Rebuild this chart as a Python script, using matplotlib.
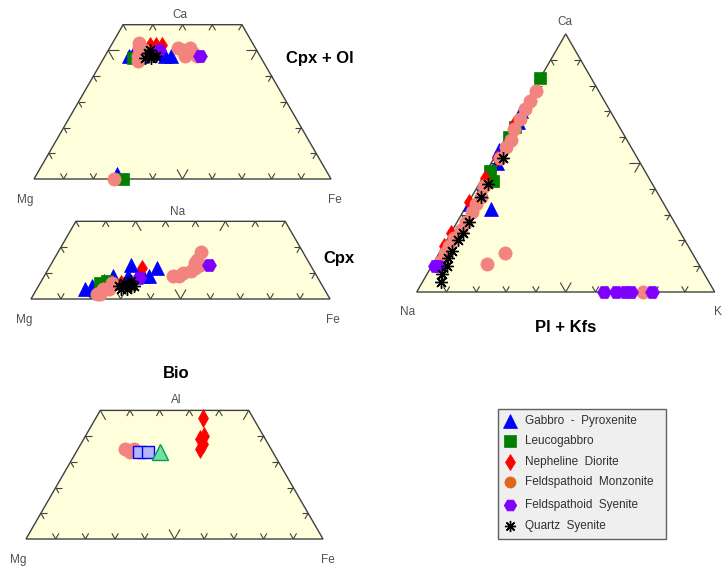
import numpy as np
import matplotlib
matplotlib.use("Agg")
import matplotlib.pyplot as plt
from matplotlib.patches import Polygon, Rectangle
from matplotlib.collections import LineCollection

plt.rcParams['font.family'] = ['Liberation Sans', 'DejaVu Sans']

W, H = 728, 568
SQ3 = np.sqrt(3) / 2
FILL = '#ffffdc'
EDGE = '#404040'
LABEL = '#505050'

# ---------------------------------------------------------------- series
names = ["Gabbro  -  Pyroxenite", "Leucogabbro", "Nepheline  Diorite",
         "Feldspathoid  Monzonite", "Feldspathoid  Syenite", "Quartz  Syenite"]

# Cpx + Ol  (Mg, Fe, Ca) in %
cpxol_gabbro = [(44, 8, 48), (41, 9, 50), (40, 12, 48), (37, 13, 50), (34, 15, 51),
                (33, 18, 49), (32, 20, 48), (30, 22, 48), (71, 27, 2)]
cpxol_leuco = [(43, 10, 47), (70, 30, 0)]
cpxol_neph = [(35, 13, 52), (33, 15, 52), (31, 17, 52)]
cpxol_monz = [(38, 9, 53), (39, 10, 51), (39, 11, 50), (40, 12, 48), (42, 12, 46),
              (38, 12, 50), (41, 11, 48), (26, 23, 51), (25, 25, 50), (24, 27, 49),
              (22, 29, 49), (21, 31, 48), (25, 27, 48), (22, 27, 51), (73, 27, 0)]
cpxol_syen = [(33, 17, 50), (20, 32, 48)]
cpxol_qtz = [(37, 14, 49), (36, 16, 48), (37, 16, 47), (35, 17, 48), (39, 14, 47), (36, 14, 50)]

# Cpx  (Mg, Fe, Na) in %
cpx_gabbro = [(60, 27, 13), (52, 36, 12), (58, 33, 9), (80, 16, 4), (77, 18, 5),
              (68, 23, 9), (63, 28, 9), (56, 35, 9), (72, 21, 7), (58, 31, 11)]
cpx_leuco = [(74, 20, 6), (71, 22, 7)]
cpx_neph = [(57, 31, 12), (67, 27, 6)]
cpx_monz = [(77, 21, 2), (74, 22, 4), (72, 24, 4), (70, 24, 6), (76, 22, 2),
            (48, 43, 9), (44, 46, 10), (41, 48, 11), (39, 49, 12), (37, 50, 13),
            (37, 48, 15), (34, 48, 18), (38, 48, 14), (46, 45, 9)]
cpx_syen = [(60, 32, 8), (34, 53, 13)]
cpx_qtz = [(68, 27, 5), (66, 28, 6), (64, 31, 5), (63, 32, 5), (66, 30, 4), (68, 28, 4), (63, 30, 7)]

# Bio  (Mg, Fe, Al) in %
bio_gabbro = [(38, 28, 34)]
bio_leuco = [(45, 21, 34), (42, 24, 34)]
bio_neph = [(17, 36, 47), (22, 39, 39), (22, 41, 37), (24, 41, 35), (20, 40, 40)]
bio_monz = [(49, 16, 35), (48, 18, 34), (46, 19, 35), (45, 21, 34)]

# Pl + Kfs  (Na, K, Ca) in %
fsp_gabbro = [(30, 0, 70), (33, 1, 66), (45, 0, 55), (48, 2, 50), (59, 9, 32),
              (59, 2, 39), (65, 1, 34)]
fsp_leuco = [(17, 0, 83), (35, 1, 64), (39, 1, 60), (52, 1, 47), (53, 4, 43)]
fsp_neph = [(35, 0, 65), (47, 1, 52), (55, 1, 44), (65, 0, 35), (77, 0, 23), (82, 0, 18)]
fsp_monz = [(21, 1, 78), (25, 1, 74), (28, 1, 71), (32, 1, 67), (36, 1, 63), (39, 2, 59),
            (42, 2, 56), (46, 2, 52), (57, 2, 41), (60, 3, 37), (63, 3, 34), (66, 3, 31),
            (70, 3, 27), (73, 3, 24), (77, 2, 21), (80, 2, 18), (83, 2, 15), (86, 2, 12),
            (63, 22, 15), (71, 18, 11), (24, 76, 0)]
fsp_syen = [(88, 2, 10), (89, 1, 10), (37, 63, 0), (33, 67, 0), (30, 70, 0), (28, 72, 0), (21, 79, 0)]
fsp_qtz = [(45, 3, 52), (55, 3, 42), (60, 3, 37), (69, 4, 27), (73, 4, 23), (76, 4, 20),
           (80, 4, 16), (83, 4, 13), (85, 5, 10), (88, 5, 7), (90, 6, 4)]

# marker styles for the six rock groups
styles = [
    dict(marker='^', color='#0000ff', ms=10),
    dict(marker='s', color='#008000', ms=9),
    dict(marker='d', color='#ff0000', ms=8),
    dict(marker='o', color='#f2837e', ms=9.5),
    dict(marker='H', color='#8000ff', ms=10),
    dict(marker=(8, 2, 0), color='#000000', ms=9),
]
legend_colors = ['#0000ff', '#008000', '#ff0000', '#e0661a', '#8000ff', '#000000']

fig = plt.figure(figsize=(W / 100, H / 100), dpi=100)


def tern_axes(ox, oy, side):
    """Axes in unit-side ternary coordinates with the left corner at pixel (ox, oy)."""
    ax = fig.add_axes([0, 0, 1, 1])
    ax.set_xlim(-ox / side, (W - ox) / side)
    ax.set_ylim(-(H - oy) / side, oy / side)
    ax.axis('off')
    ax.patch.set_visible(False)
    return ax


def to_xy(points):
    p = np.asarray(points, float)
    p = p / p.sum(axis=1, keepdims=True)
    return p[:, 1] + p[:, 2] / 2, p[:, 2] * SQ3


def frame(ax, top, side_px):
    if top < 1:
        verts = [(0, 0), (1, 0), (1 - top / 2, top * SQ3), (top / 2, top * SQ3)]
    else:
        verts = [(0, 0), (1, 0), (0.5, SQ3)]
    ax.add_patch(Polygon(verts, closed=True, fc=FILL, ec=EDGE, lw=1.0, zorder=1))
    short, long_ = 6.5 / side_px, 11 / side_px
    d60 = np.array([0.5, SQ3])
    d120 = np.array([-0.5, SQ3])
    d0 = np.array([1.0, 0.0])
    segs = []

    def add(p, d):
        p = np.array(p)
        segs.append([p, p + d])

    for i in range(1, 10):
        v = i / 10
        L = long_ if i == 5 else short
        if v < top - 1e-9:
            add((v / 2, v * SQ3), d0 * L)
            add((1 - v / 2, v * SQ3), -d0 * L)
        add((v, 0), d60 * L)
        if v + top <= 1 + 1e-9:
            add((v + top / 2, top * SQ3), -d60 * L)
        else:
            c = 1 - v
            add((v + c / 2, c * SQ3), -d60 * L)
        add((1 - v, 0), d120 * L)
        if v + top <= 1 + 1e-9:
            b = 1 - v - top
            add((b + top / 2, top * SQ3), -d120 * L)
        else:
            c = 1 - v
            add((c / 2, c * SQ3), -d120 * L)
    ax.add_collection(LineCollection(segs, colors=EDGE, linewidths=0.8, zorder=2))


def plot_group(ax, pts, style, z, **over):
    if not pts:
        return
    x, y = to_xy(pts)
    st = dict(style)
    st.update(over)
    color = st.pop('color')
    mfc = st.pop('mfc', color)
    mec = st.pop('mec', color)
    mew = st.pop('mew', 1.0 if st['marker'] == (8, 2, 0) else 0.5)
    ax.plot(x, y, ls='none', mfc=mfc, mec=mec, mew=mew, color=color,
            zorder=z, clip_on=False, **st)


# Cpx + Ol
ax1 = tern_axes(34, 179, 297)
frame(ax1, 0.6, 297)
for k, grp in enumerate([cpxol_gabbro, cpxol_leuco, cpxol_neph, cpxol_monz, cpxol_syen, cpxol_qtz]):
    plot_group(ax1, grp, styles[k], 3 + k)

# Cpx
ax2 = tern_axes(31, 299, 299)
frame(ax2, 0.3, 299)
for k, grp in enumerate([cpx_gabbro, cpx_leuco, cpx_neph, cpx_monz, cpx_syen, cpx_qtz]):
    plot_group(ax2, grp, styles[k], 3 + k)

# Bio
ax3 = tern_axes(26, 539, 297)
frame(ax3, 0.5, 297)
plot_group(ax3, bio_monz, styles[3], 3)
plot_group(ax3, bio_leuco, styles[1], 4, color='#0000ff', mfc='#b4b4ff', mec='#0000ff', mew=1.0, ms=9)
plot_group(ax3, bio_gabbro, styles[0], 5, color='#00a050', mfc='#70e0a8', mec='#00a050', mew=1.0, ms=11)
plot_group(ax3, bio_neph, styles[2], 6, ms=9)

# Pl + Kfs
ax4 = tern_axes(416.7, 292, 298)
frame(ax4, 1.0, 298)
for k, grp in enumerate([fsp_gabbro, fsp_leuco, fsp_neph, fsp_monz, fsp_syen, fsp_qtz]):
    plot_group(ax4, grp, styles[k], 3 + k)

# labels and legend in pixel coordinates
tax = fig.add_axes([0, 0, 1, 1])
tax.set_xlim(0, W)
tax.set_ylim(H, 0)
tax.axis('off')
tax.patch.set_visible(False)

corner = dict(fontsize=8.5, color=LABEL, ha='center', va='center')
title = dict(fontsize=12, color='#000000', ha='center', va='center', fontweight='bold')

tax.text(180, 15, 'Ca', **corner)
tax.text(25, 200, 'Mg', **corner)
tax.text(335, 200, 'Fe', **corner)
tax.text(320, 58, 'Cpx + Ol', **title)

tax.text(178, 212, 'Na', **corner)
tax.text(24, 320, 'Mg', **corner)
tax.text(333, 320, 'Fe', **corner)
tax.text(339, 258, 'Cpx', **title)

tax.text(176, 374, 'Bio', **title)
tax.text(176, 400, 'Al', **corner)
tax.text(18, 560, 'Mg', **corner)
tax.text(328, 560, 'Fe', **corner)

tax.text(565, 22, 'Ca', **corner)
tax.text(408, 312, 'Na', **corner)
tax.text(718, 312, 'K', **corner)
tax.text(566, 327, 'Pl + Kfs', **title)

tax.add_patch(Rectangle((498, 409), 168, 130, fc='#efefef', ec='#606060', lw=1.0, zorder=1))
legend_y = [421, 441, 462, 482, 505, 526]
legend_ms = [10, 8.5, 8, 8, 9, 8]
for k, (name, yy) in enumerate(zip(names, legend_y)):
    st = dict(styles[k])
    st.pop('color')
    st.pop('ms')
    c = legend_colors[k]
    tax.plot([510], [yy], ls='none', mfc=c, mec=c,
             mew=1.0 if k == 5 else 0.5, ms=legend_ms[k], zorder=3, **st)
    tax.text(525, yy, name, fontsize=8.5, color='#303030', ha='left', va='center', zorder=3)

fig.savefig('out.png', dpi=100)
